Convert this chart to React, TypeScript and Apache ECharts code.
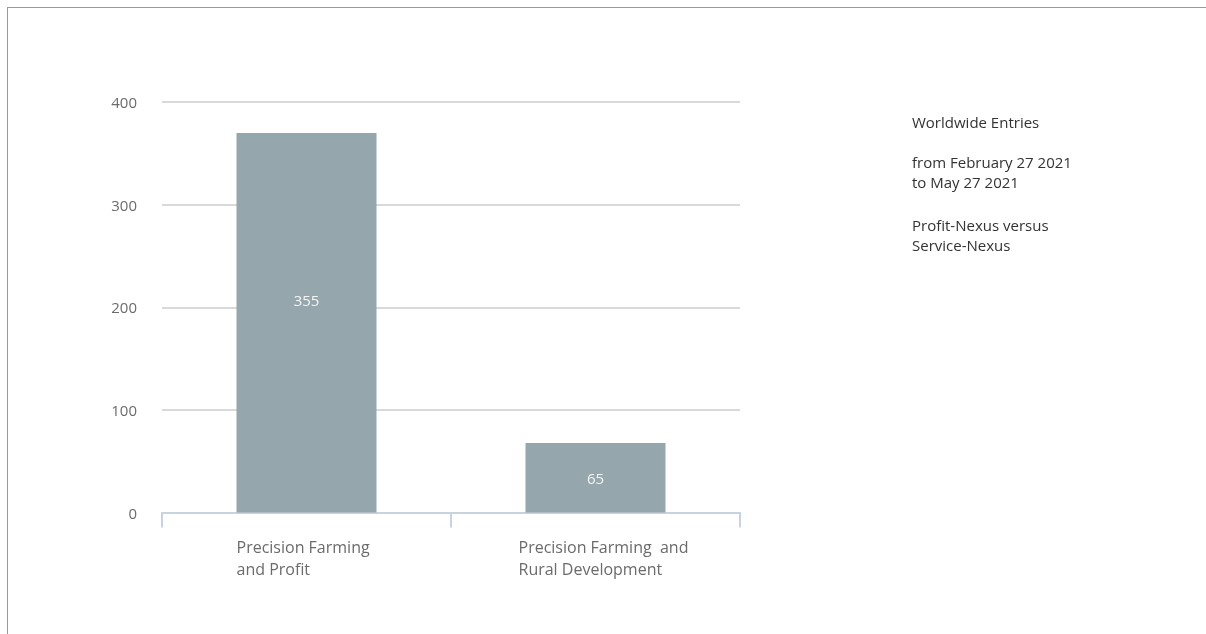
import React, { useEffect, useRef } from "react";
import * as echarts from "echarts";

const categories = ["Precision Farming\nand Profit", "Precision Farming  and\nRural Development"];
const values = [355, 65];
const yTicks = [0, 100, 200, 300, 400];
const sideParagraphs = [
  ["Worldwide Entries"],
  ["from February 27 2021", "to May 27 2021"],
  ["Profit-Nexus versus", "Service-Nexus"],
];

function buildSideText() {
  const items: any[] = [];
  let y = 122;
  sideParagraphs.forEach((para, pi) => {
    para.forEach((line) => {
      items.push({
        type: "text",
        x: 904,
        y: y - 8,
        style: {
          text: line,
          fontFamily: "Open Sans",
          fontSize: 15,
          fill: "#333",
          textVerticalAlign: "middle",
          verticalAlign: "middle",
        },
      });
      y += 19.5;
    });
    y += pi === 0 ? 20.5 : 24;
  });
  return items;
}

export default function App() {
  const ref = useRef<HTMLDivElement>(null);
  useEffect(() => {
    if (!ref.current) return;
    const chart = echarts.init(ref.current, undefined, { renderer: "svg" });
    chart.setOption({
      animation: false,
      grid: { left: 154, right: 474, top: 94, bottom: 129.5, containLabel: false },
      xAxis: {
        type: "category",
        data: categories,
        axisLine: { lineStyle: { color: "#c8d3e0", width: 2 } },
        axisTick: { show: true, length: 15, lineStyle: { color: "#c8d3e0", width: 2 } },
        axisLabel: {
          margin: 23,
          formatter: (v: string, i: number) => {
            const key = i === 0 ? "a" : "b";
            return v
              .split("\n")
              .map((l) => `{${key}|${l}}`)
              .join("\n");
          },
          rich: {
            a: { width: 140, align: "left", fontFamily: "Open Sans", fontSize: 16, color: "#6b6b6b", lineHeight: 22 },
            b: { width: 154, align: "left", fontFamily: "Open Sans", fontSize: 16, color: "#6b6b6b", lineHeight: 22 },
          },
        },
      },
      yAxis: [
        {
          type: "value",
          min: yTicks[0],
          max: yTicks[yTicks.length - 1],
          interval: 100,
          axisLine: { show: false },
          axisTick: { show: false },
          axisLabel: { margin: 25, fontFamily: "Open Sans", fontSize: 15, color: "#6b6b6b" },
          splitLine: { lineStyle: { color: "#cccccc", width: 1.5 } },
        },
        {
          type: "value",
          min: 0,
          max: 384,
          show: false,
          splitLine: { show: false },
        },
      ],
      series: [
        {
          type: "bar",
          yAxisIndex: 1,
          data: values.map((v, i) => (i === 0 ? { value: v, label: { offset: [0, -23] } } : v)),
          barWidth: 140,
          itemStyle: { color: "#95a6ad" },
          label: {
            show: true,
            position: "inside",
            color: "#f4f4f4",
            fontFamily: "Open Sans",
            fontSize: 15,
          },
        },
      ],
      graphic: buildSideText(),
    });
    return () => chart.dispose();
  }, []);
  return (
    <div style={{ position: "relative", width: 1206, height: 634 }}>
      <div
        style={{
          position: "fixed",
          left: 7,
          top: 7,
          width: 1400,
          height: 800,
          border: "1px solid #999",
          boxSizing: "border-box",
          pointerEvents: "none",
        }}
      />
      <div ref={ref} style={{ position: "relative", width: 1206, height: 634 }} />
    </div>
  );
}
